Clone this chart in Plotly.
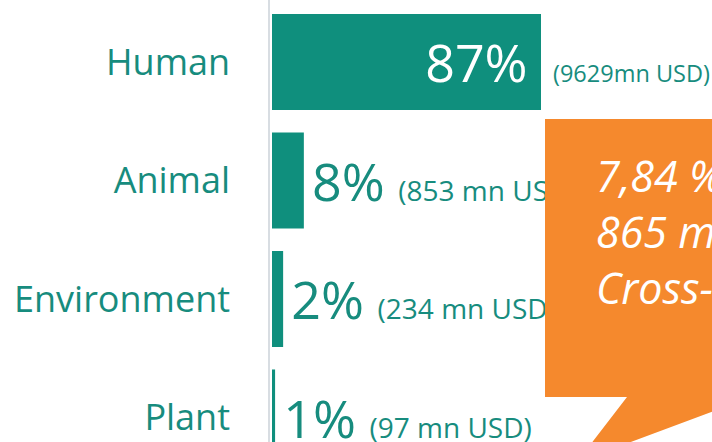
import plotly.graph_objects as go

# data
sectors = ["Human", "Animal", "Environment", "Plant"]
share_labels = ["87%", "8%", "2%", "1%"]
bar_lengths = [87, 10.3, 3.6, 1.0]  # drawn bar lengths (pct scale)
usd_labels = ["(9629mn USD)", "(853 mn USD)", "(234 mn USD)", "(97 mn USD)"]
callout_lines = ["7,84 %", "865 mn USD", "Cross-sectoral"]

TEAL = "#0f8f7d"
TEXT_TEAL = "#178c7e"
ORANGE = "#f5892d"
FONT = "Open Sans"

W, H = 712, 442
LEFT = 270

# first bar carries only the big label inside, the rest get both labels outside
bar_text = []
for i, (pct, usd) in enumerate(zip(share_labels, usd_labels)):
    if i == 0:
        bar_text.append(pct + "<span style='font-size:40px'>\u00a0</span>")
    else:
        bar_text.append(
            "<span style='font-size:20px'>\u00a0</span>" + pct + "\u00a0"
            + "<span style='font-size:28px'>" + usd + "</span>"
        )

fig = go.Figure(go.Bar(
    y=sectors,
    x=bar_lengths,
    orientation="h",
    marker=dict(color=TEAL, line=dict(width=0)),
    text=bar_text,
    textposition=["inside", "outside", "outside", "outside"],
    insidetextanchor="end",
    insidetextfont=dict(family=FONT, size=52, color="white"),
    outsidetextfont=dict(family=FONT, size=52, color=TEXT_TEAL),
    constraintext="none",
    cliponaxis=False,
    hoverinfo="skip",
))

# usd label for the first bar sits outside
fig.add_annotation(
    x=bar_lengths[0], y=sectors[0], xref="x", yref="y",
    text=usd_labels[0], showarrow=False,
    xanchor="left", yanchor="middle", xshift=10, yshift=-11,
    font=dict(family=FONT, size=23.5, color=TEXT_TEAL),
)


def px(x, y):
    return (x - LEFT) / (W - LEFT), 1 - y / H


# orange speech bubble, partly off the right edge
pts = [(545, 119), (770, 119), (770, 397), (752, 397), (577, 462), (627, 397), (545, 397)]
path = "M " + " L ".join("%.4f %.4f" % px(x, y) for x, y in pts) + " Z"
fig.add_shape(type="path", path=path, xref="paper", yref="paper",
              fillcolor=ORANGE, line=dict(width=0), layer="above")

cx, cy = px(594, 231)
fig.add_annotation(
    x=cx, y=cy, xref="paper", yref="paper",
    text="<br>".join(callout_lines), showarrow=False, align="left",
    xanchor="left", yanchor="middle",
    font=dict(family=FONT, size=43, color="white", style="italic"),
)

scale = 269 / 87  # px per unit
x0 = -2 / scale
fig.update_layout(
    width=W, height=H,
    margin=dict(l=LEFT, r=0, t=0, b=0),
    paper_bgcolor="white", plot_bgcolor="white",
    bargap=0.19,
    showlegend=False,
    xaxis=dict(visible=False, range=[x0, (W - LEFT) / scale + x0], fixedrange=True),
    yaxis=dict(
        type="category", categoryorder="array", categoryarray=sectors,
        range=[3.207, -0.523], fixedrange=True,
        showline=True, linecolor="#d8dde2", linewidth=1.5,
        showgrid=False, zeroline=False, ticks="",
        ticklabelstandoff=31,
        tickfont=dict(family=FONT, size=36, color=TEXT_TEAL),
    ),
)

fig.write_html("out.html", config={"displayModeBar": False},
               post_script="document.body.style.margin='0';")
